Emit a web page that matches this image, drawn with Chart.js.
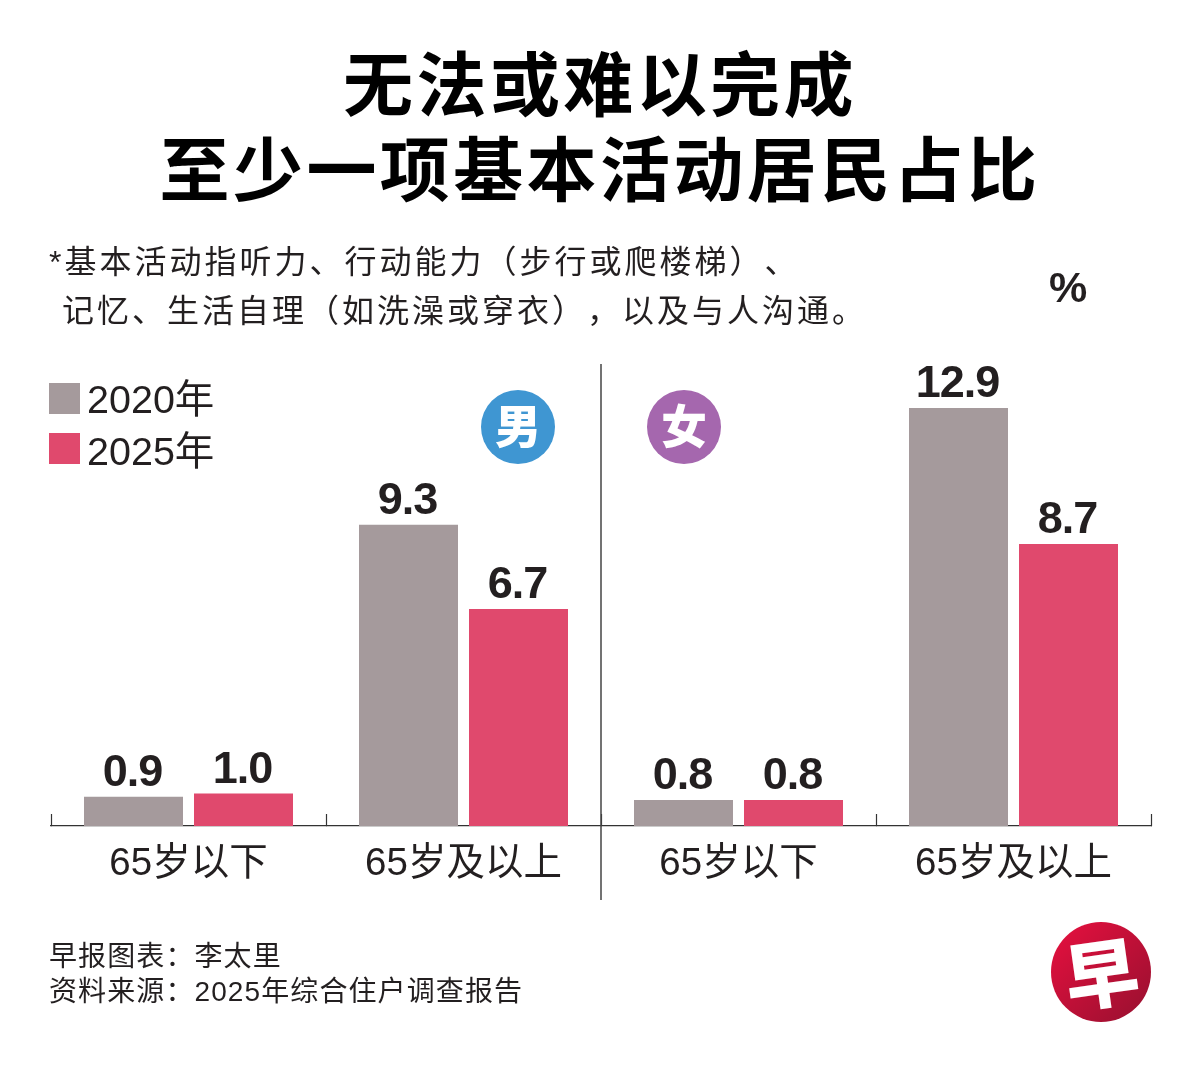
<!DOCTYPE html>
<html lang="zh">
<head>
<meta charset="utf-8">
<title>无法或难以完成至少一项基本活动居民占比</title>
<script src="https://cdn.jsdelivr.net/npm/chart.js@4"></script>
<style>
html, body { margin: 0; padding: 0; background: #fff; }
#wrap { position: relative; width: 1200px; height: 1072px; overflow: hidden; color: #231f20; font-family: "Liberation Sans", "Noto Sans CJK SC", sans-serif; text-spacing-trim: space-all; }
#carta { position: absolute; left: 0; top: 0; }
.txt { position: absolute; white-space: nowrap; }
.title { left: 0; width: 1200px; text-align: center; font-family: "Noto Sans CJK SC", sans-serif; font-weight: 700; font-size: 70px; letter-spacing: 3.4px; color: #000; line-height: 84px; }
.note { font-size: 32px; line-height: 48px; letter-spacing: 3px; font-weight: 400; }
.source { font-size: 28px; line-height: 36px; letter-spacing: 1.1px; left: 49px; }
.logo { left: 1051px; top: 922px; width: 100px; height: 100px; border-radius: 50%; background: linear-gradient(135deg, #e8103f, #96102f); color: #fff; text-align: center; font: 900 74px/96px "Noto Sans CJK SC", sans-serif; }
.logo span { display: inline-block; transform: rotate(-8deg); }
</style>
</head>
<body>
<div id="wrap">
  <canvas id="carta" width="1200" height="1072"></canvas>
  <div class="txt title" id="t1" style="top:39px"></div>
  <div class="txt title" id="t2" style="top:124px"></div>
  <div class="txt note" id="n1" style="left:49px;top:238px"></div>
  <div class="txt note" id="n2" style="left:62px;top:287px"></div>
  <div class="txt" id="unit" style="left:1049px;top:263px;font:bold 43px 'Liberation Sans'"></div>
  <div class="txt source" id="s1" style="top:939px"></div>
  <div class="txt source" id="s2" style="top:974px"></div>
  <div class="txt logo"><span id="logo"></span></div>
</div>
<script>
const titleLines = ["无法或难以完成", "至少一项基本活动居民占比"]
const noteLines = ["*基本活动指听力、行动能力（步行或爬楼梯）、", "记忆、生活自理（如洗澡或穿衣），以及与人沟通。"]
const sourceLines = ["早报图表：李太里", "资料来源：2025年综合住户调查报告"]
const unitLabel = "%"
const logoLabel = "早"

const categories = ["65岁以下", "65岁及以上", "65岁以下", "65岁及以上"]
const values2020 = [0.9, 9.3, 0.8, 12.9]
const values2025 = [1.0, 6.7, 0.8, 8.7]
const seriesNames = ["2020年", "2025年"]
const seriesColors = ["#a59a9c", "#e0496d"]
const genderBadges = [
    { text: "男", color: "#3f96d2", x: 518 },
    { text: "女", color: "#a567ae", x: 684 }
]

document.getElementById("t1").textContent = titleLines[0]
document.getElementById("t2").textContent = titleLines[1]
document.getElementById("n1").textContent = noteLines[0]
document.getElementById("n2").textContent = noteLines[1]
document.getElementById("s1").textContent = sourceLines[0]
document.getElementById("s2").textContent = sourceLines[1]
document.getElementById("unit").textContent = unitLabel
document.getElementById("logo").textContent = logoLabel

const CJK = '"Liberation Sans", "Noto Sans CJK SC", sans-serif'

// value labels above each bar
const barLabels = {
    id: "barLabels",
    afterDatasetsDraw(chart) {
        const ctx = chart.ctx
        ctx.save()
        ctx.font = "bold 45px " + CJK
        ctx.letterSpacing = "-1px"
        ctx.fillStyle = "#231f20"
        ctx.textAlign = "center"
        ctx.textBaseline = "alphabetic"
        chart.data.datasets.forEach((ds, i) => {
            chart.getDatasetMeta(i).data.forEach((bar, j) => {
                ctx.fillText(ds.data[j].toFixed(1), bar.x - 1, bar.y - 11)
            })
        })
        ctx.restore()
    }
}

// legend, middle divider and the two gender badges
const decorations = {
    id: "decorations",
    afterDraw(chart) {
        const ctx = chart.ctx
        ctx.save()
        ctx.textBaseline = "middle"
        chart.data.datasets.forEach((ds, i) => {
            const top = 383 + i * 50
            ctx.fillStyle = ds.backgroundColor
            ctx.fillRect(49, top, 31, 31)
            ctx.fillStyle = "#231f20"
            ctx.font = "39.5px " + CJK
            ctx.textAlign = "left"
            ctx.fillText(ds.label, 87, top + 19 + i * 2)
        })

        const midX = (chart.chartArea.left + chart.chartArea.right) / 2
        ctx.strokeStyle = "#444"
        ctx.lineWidth = 1.5
        ctx.beginPath()
        ctx.moveTo(midX, 364)
        ctx.lineTo(midX, 900)
        ctx.stroke()

        genderBadges.forEach(b => {
            ctx.fillStyle = b.color
            ctx.beginPath()
            ctx.arc(b.x, 427, 37, 0, Math.PI * 2)
            ctx.fill()
            ctx.fillStyle = "#fff"
            ctx.font = '900 46px "Noto Sans CJK SC", sans-serif'
            ctx.textAlign = "center"
            ctx.fillText(b.text, b.x, 426)
        })
        ctx.restore()
    }
}

new Chart(document.getElementById("carta"), {
    type: "bar",
    data: {
        labels: categories,
        datasets: [
            { label: seriesNames[0], data: values2020, backgroundColor: seriesColors[0] },
            { label: seriesNames[1], data: values2025, backgroundColor: seriesColors[1] }
        ]
    },
    options: {
        responsive: false,
        animation: false,
        devicePixelRatio: 1,
        layout: { padding: { left: 51, right: 49, top: 372.4, bottom: 0 } },
        datasets: { bar: { categoryPercentage: 0.8, barPercentage: 0.9 } },
        plugins: { legend: { display: false }, tooltip: { enabled: false } },
        scales: {
            x: {
                afterFit(scale) { scale.height = 246 },
                offset: true,
                grid: { offset: true, drawOnChartArea: false, tickLength: -12, tickColor: "#333", tickWidth: 1.2 },
                border: { display: true, color: "#333", width: 1.2 },
                ticks: { color: "#231f20", padding: 27, maxRotation: 0, autoSkip: false, font: { size: 38.5, family: CJK } }
            },
            y: { display: false, min: 0, max: 14 }
        }
    },
    plugins: [barLabels, decorations]
})
</script>
</body>
</html>
